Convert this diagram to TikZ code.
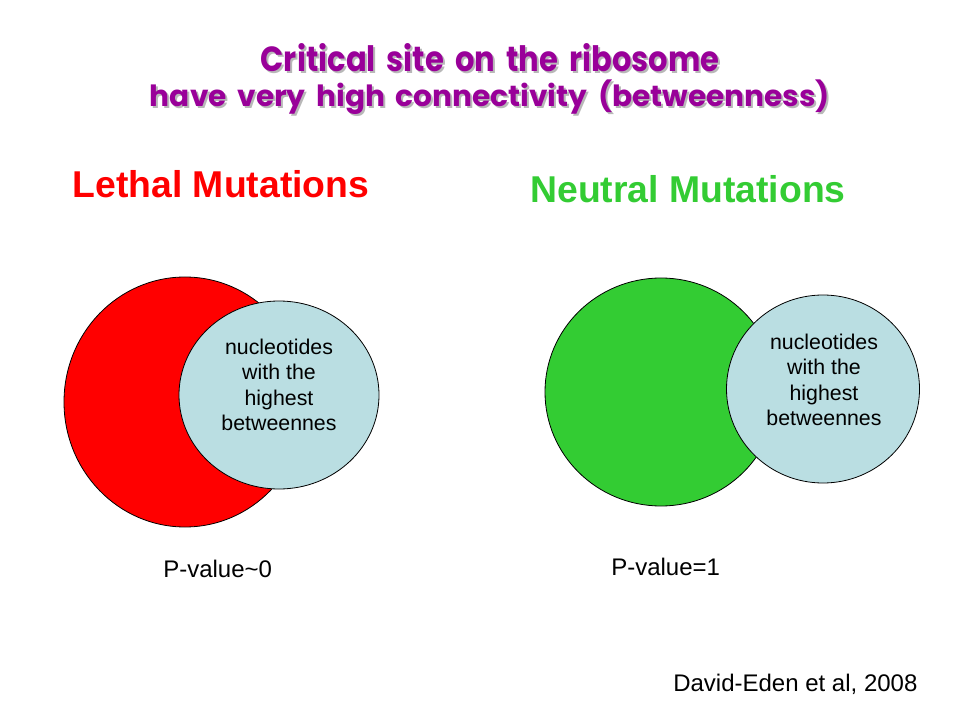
\documentclass[tikz,border=0pt]{standalone}
\usepackage{fontspec}
\setmainfont{Liberation Sans}
\newfontfamily\titlefont{Poppins}[WordSpace=1.7]
\usetikzlibrary{shapes.geometric}
\definecolor{titlepurple}{HTML}{990099}
\definecolor{lethalred}{HTML}{FF0000}
\definecolor{neutralgreen}{HTML}{33CC33}
\definecolor{lightcyan}{HTML}{BADEE2}
\definecolor{shadowgray}{HTML}{B8B8B8}
\newcommand{\shadowed}[3]{%
  \makebox[0pt][l]{\hspace{1.5pt}\raisebox{-1.5pt}{\color{shadowgray}\resizebox{#1}{#2}{#3}}}%
  \resizebox{#1}{#2}{#3}}
\tikzset{
  blob/.style={ellipse, draw=black, line width=0.6pt, inner sep=0pt},
  bodytext/.style={font=\fontsize{16}{19}\selectfont, align=center, inner sep=0pt, text=black},
  headtext/.style={font=\fontsize{28}{32}\selectfont\bfseries, inner sep=0pt, anchor=base},
  smalltext/.style={font=\fontsize{18}{21}\selectfont, inner sep=0pt, anchor=base west, text=black},
  titletext/.style={font=\titlefont\bfseries, inner sep=0pt, anchor=base, text=titlepurple}
}
\begin{document}
\begin{tikzpicture}[x=0.75pt, y=-0.75pt]
\useasboundingbox (0,0) rectangle (960,720);
\fill[white] (0,0) rectangle (960,720);

% title with shadow
\node[titletext] (t1) at (490,72) {\shadowed{344pt}{21pt}{Critical site on the ribosome}};
\node[titletext] (t2) at (490,107) {\shadowed{510pt}{20pt}{have very high connectivity (betweenness)}};

% headings
\node[headtext, text=lethalred] (lethal) at (221,198) {Lethal Mutations};
\node[headtext, text=neutralgreen] (neutral) at (688,203) {Neutral Mutations};

% left diagram
\node[blob, fill=lethalred, minimum width=242*0.75pt, minimum height=250*0.75pt] (redset) at (185,402) {};
\node[blob, fill=lightcyan, minimum width=200*0.75pt, minimum height=188*0.75pt] (blueL) at (279,395) {};
\node[bodytext] (txtL) at (279,385) {nucleotides\\with the\\highest\\betweennes};

% right diagram
\node[blob, fill=neutralgreen, minimum width=232*0.75pt, minimum height=228*0.75pt] (greenset) at (661,392) {};
\node[blob, fill=lightcyan, minimum width=193*0.75pt, minimum height=188*0.75pt] (blueR) at (823,389) {};
\node[bodytext] (txtR) at (824,380) {nucleotides\\with the\\highest\\betweennes};

% p-values and citation
\node[smalltext] (pL) at (163,577) {P-value\textasciitilde 0};
\node[smalltext] (pR) at (611,575) {P-value=1};
\node[smalltext] (cite) at (673,691) {David-Eden et al, 2008};
\end{tikzpicture}
\end{document}
